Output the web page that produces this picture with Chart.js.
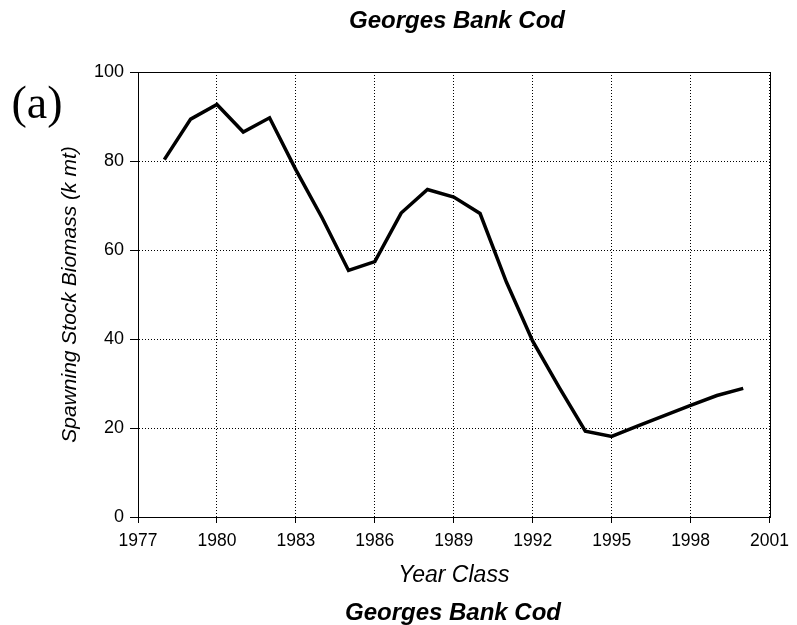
<!DOCTYPE html>
<html>
<head>
<meta charset="utf-8">
<script src="https://cdn.jsdelivr.net/npm/chart.js@4"></script>
<style>

    html,body{
        margin:0;
        padding:0;
        background:#fff;
    }

    #wrap{
        position:relative;
        width:797px;
        height:625px;
    }

    .label{
        position:absolute;
        white-space:nowrap;
        color:#000;
        transform:translateX(-50%);
    }

    #titleTop,
    #titleBottom{
        font-family:"Liberation Sans",Arial,sans-serif;
        font-weight:bold;
        font-style:italic;
        font-size:24px;
        line-height:24px;
    }

    #titleTop{
        left:457px;
        top:8px;
    }

    #titleBottom{
        left:453px;
        top:600px;
    }

    #panel{
        font-family:"Liberation Serif","Times New Roman",serif;
        font-size:46px;
        line-height:46px;
        left:37px;
        top:80px;
    }

</style>
</head>
<body>

<div id="wrap">

    <canvas id="codChart" width="797" height="625"></canvas>

    <div class="label" id="titleTop">Georges Bank Cod</div>

    <div class="label" id="panel">(a)</div>

    <div class="label" id="titleBottom">Georges Bank Cod</div>

</div>

<script>

/* =====================================================
   DATA
===================================================== */

const years = [
    1978,1979,1980,1981,1982,1983,1984,1985,
    1986,1987,1988,1989,1990,1991,1992,1993,
    1994,1995,1996,1997,1998,1999,2000
];

const biomass = [
    80.3,89.4,92.7,86.5,89.7,78.0,67.2,55.4,
    57.4,68.3,73.6,71.9,68.2,52.8,39.5,29.2,
    19.3,18.1,20.5,22.8,25.1,27.3,28.9
];

const xTicks = [1977,1980,1983,1986,1989,1992,1995,1998,2001];

const yTicks = [0,20,40,60,80,100];


/* =========================
   FRAME (top + right edge)
========================= */

const framePlugin = {

    id:"frame",

    afterDatasetsDraw(chart){

        const {ctx, chartArea:a} = chart;

        ctx.save();
        ctx.strokeStyle = "#000";
        ctx.lineWidth = 1;
        ctx.strokeRect(
            Math.round(a.left) + 0.5,
            Math.round(a.top) + 0.5,
            Math.round(a.right - a.left),
            Math.round(a.bottom - a.top)
        );
        ctx.restore();

    }

};


/* =========================
   CHART
========================= */

const tickFont = {
    family:"'Liberation Sans', Arial, sans-serif",
    size:17.5
};

new Chart(document.getElementById("codChart"),{

    type:"line",

    data:{

        datasets:[{

            label:"SSB",

            data:years.map((y,i) => ({x:y, y:biomass[i]})),

            borderColor:"#000",

            borderWidth:3.5,

            pointRadius:0,

            tension:0,

            fill:false

        }]

    },

    options:{

        responsive:false,

        animation:false,

        layout:{
            padding:{top:72, right:22, bottom:28, left:0}
        },

        plugins:{

            legend:{ display:false },

            tooltip:{ enabled:false }

        },

        scales:{

            x:{

                type:"linear",

                min:1977,

                max:2001,

                afterBuildTicks:scale => {
                    scale.ticks = xTicks.map(v => ({value:v}));
                },

                afterFit:scale => {
                    scale.height = 80;
                },

                ticks:{
                    color:"#000",
                    font:tickFont,
                    padding:8,
                    maxRotation:0,
                    autoSkip:false,
                    callback:value => String(value)
                },

                grid:{
                    color:"#000",
                    lineWidth:1,
                    tickLength:6,
                    tickColor:"#000"
                },

                border:{
                    color:"#000",
                    width:1,
                    dash:[1,2]
                },

                title:{
                    display:true,
                    text:"Year Class",
                    color:"#000",
                    font:{
                        family:"'Liberation Sans', Arial, sans-serif",
                        size:23,
                        style:"italic"
                    },
                    padding:{top:0, bottom:8}
                }

            },

            y:{

                min:0,

                max:100,

                afterBuildTicks:scale => {
                    scale.ticks = yTicks.map(v => ({value:v}));
                },

                afterFit:scale => {
                    scale.width = 138;
                },

                ticks:{
                    color:"#000",
                    font:{
                        family:"'Liberation Sans', Arial, sans-serif",
                        size:18
                    },
                    padding:6
                },

                grid:{
                    color:"#000",
                    lineWidth:1,
                    tickLength:8,
                    tickColor:"#000"
                },

                border:{
                    color:"#000",
                    width:1,
                    dash:[1,2]
                },

                title:{
                    display:true,
                    text:"Spawning Stock Biomass (k mt)",
                    color:"#000",
                    font:{
                        family:"'Liberation Sans', Arial, sans-serif",
                        size:21,
                        style:"italic"
                    },
                    padding:{top:58, bottom:0}
                }

            }

        }

    },

    plugins:[framePlugin]

});

</script>
</body>
</html>
